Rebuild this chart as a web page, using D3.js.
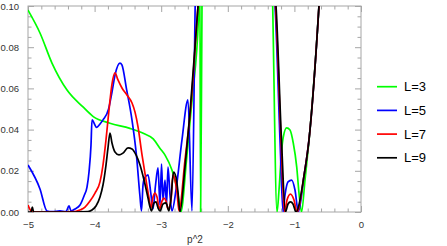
<!DOCTYPE html>
<html><head><meta charset="utf-8">
<script src="https://cdn.jsdelivr.net/npm/d3@7"></script>
<style>
body{margin:0;background:#fff}
text{font-family:"Liberation Sans",Arial,sans-serif}
</style>
</head><body>
<script>
// ---- data ----
const seriesLabels = ["L=3","L=5","L=7","L=9"];
const seriesColors = ["#00ff00","#0000ff","#ff0000","#000000"];
const xTickValues = [-5,-4,-3,-2,-1,0];
const yTickValues = [0,0.02,0.04,0.06,0.08,0.10];
const xLabel = "p^2";

// [p^2, value] pairs (values above 0.10 are clipped)
const L3 = [[-5.0,0.098],[-4.82,0.0869],[-4.64,0.0723],[-4.414,0.0592],[-4.174,0.051],[-4.02,0.0463],
 [-3.77,0.0431],[-3.47,0.0406],[-3.27,0.0382],[-3.12,0.0355],[-3.02,0.031],[-2.94,0.0275],[-2.84,0.0205],
 [-2.79,0.015],[-2.75,0.009],[-2.725,0.003],[-2.705,0],[-2.62,0.0252],[-2.53,0.0568],[-2.44,0.0947],
 [-2.428,0.108],[-2.42,0.115],[-2.408,0],[-2.387,0.103],[-2.37,0.14],[-1.85,0.3],[-1.345,0.13],[-1.326,0.1],
 [-1.261,0],[-1.231,0.0107],[-1.191,0.0301],[-1.167,0.0364],[-1.116,0.0408],[-1.066,0.0398],[-1.017,0.0335],
 [-0.965,0.0218],[-0.931,0.0092],[-0.893,0],[-0.841,0.0155],[-0.766,0.0398],[-0.631,0.1],[-0.6,0.117]];

const L5 = [[-5.0,0.0228],[-4.82,0.0112],[-4.715,0.0005],[-4.64,0.0002],[-4.52,0.0005],[-4.43,0.0002],
 [-4.384,0.003],[-4.354,0.0005],[-4.294,0.0015],[-4.219,0.0034],[-4.159,0.0078],[-4.114,0.0121],[-4.084,0.0194],
 [-4.054,0.0325],[-4.039,0.0447],[-3.97,0.0411],[-3.919,0.0427],[-3.874,0.0447],[-3.79,0.05],[-3.74,0.058],
 [-3.69,0.067],[-3.62,0.0723],[-3.59,0.0714],[-3.52,0.0595],[-3.44,0.045],[-3.37,0.027],[-3.32,0.008],
 [-3.296,0.0005],[-3.273,0.0131],[-3.25,0.0165],[-3.198,0.018],[-3.153,0.0083],[-3.123,0.0015],[-3.085,0.0131],
 [-3.048,0.0214],[-3.018,0.0034],[-2.995,0.0233],[-2.973,0.0058],[-2.943,0.0155],[-2.92,0.0034],[-2.898,0.0218],
 [-2.868,0.0083],[-2.838,0.0005],[-2.778,0.0107],[-2.688,0.035],[-2.598,0.0544],[-2.538,0.0005],[-2.49,0.1],
 [-2.47,0.14],[-1.85,0.3],[-1.314,0.11],[-1.291,0.1],[-1.216,0.035],[-1.171,0],[-1.141,0.0083],[-1.096,0.0146],
 [-1.041,0.0155],[-0.991,0.0107],[-0.941,0],[-0.856,0.0175],[-0.781,0.035],[-0.631,0.1],[-0.6,0.117]];

const L7 = [[-5.0,0.0034],[-4.955,0.0005],[-4.925,0],[-4.5,0],[-4.294,0.0002],[-4.219,0.001],[-4.144,0.0024],
 [-4.069,0.0053],[-3.994,0.0092],[-3.919,0.0146],[-3.874,0.0228],[-3.829,0.035],[-3.784,0.0495],[-3.739,0.0621],
 [-3.694,0.0675],[-3.649,0.0641],[-3.589,0.0602],[-3.514,0.0568],[-3.438,0.0529],[-3.393,0.0485],[-3.348,0.0413],
 [-3.288,0.0277],[-3.228,0.0155],[-3.183,0.0068],[-3.153,0.002],[-3.123,0.0073],[-3.093,0.0092],[-3.063,0.0073],
 [-3.025,0.0015],[-2.988,0.0053],[-2.958,0.0068],[-2.928,0.0053],[-2.898,0.0015],[-2.853,0.0058],[-2.823,0.018],
 [-2.793,0.0155],[-2.763,0.0097],[-2.733,0.0005],[-2.643,0.0252],[-2.553,0.052],[-2.447,0.1],[-2.417,0.112],
 [-1.85,0.3],[-1.31,0.11],[-1.284,0.1],[-1.201,0.035],[-1.149,0],[-1.111,0.0058],[-1.059,0.0087],[-1.006,0.0058],
 [-0.961,0],[-0.856,0.0175],[-0.781,0.035],[-0.631,0.1],[-0.6,0.117]];

const L9 = [[-5.0,0],[-4.955,0],[-4.935,0.0024],[-4.915,0],[-4.3,0],[-4.099,0.0002],[-4.039,0.001],[-3.979,0.0029],
 [-3.919,0.0073],[-3.874,0.0131],[-3.829,0.0228],[-3.799,0.0311],[-3.769,0.0383],[-3.739,0.0335],[-3.694,0.0291],
 [-3.634,0.0277],[-3.574,0.0286],[-3.498,0.0311],[-3.438,0.0306],[-3.378,0.0277],[-3.318,0.0228],[-3.258,0.0155],
 [-3.198,0.0068],[-3.168,0.0024],[-3.146,0.0005],[-3.108,0.0044],[-3.078,0.0049],[-3.048,0.002],[-3.018,0.0005],
 [-2.973,0.0039],[-2.928,0.0044],[-2.883,0.0005],[-2.853,0.0068],[-2.815,0.0194],[-2.778,0.017],[-2.748,0.0097],
 [-2.718,0],[-2.643,0.0218],[-2.568,0.0481],[-2.447,0.1],[-2.417,0.112],[-1.85,0.3],[-1.3,0.11],[-1.276,0.1],
 [-1.194,0.035],[-1.134,0],[-1.096,0.0039],[-1.059,0.0049],[-1.021,0.0039],[-0.976,0],[-0.856,0.0175],
 [-0.781,0.035],[-0.631,0.1],[-0.6,0.117]];

const allSeries = [L3, L5, L7, L9];

// ---- layout ----
const W = 447, H = 246;
const mLeft = 28, mRight = 361, mTop = 6, mBottom = 212;
const svg = d3.select("body").append("svg").attr("width", W).attr("height", H);

const x = d3.scaleLinear().domain([-5, 0]).range([mLeft, mRight]);
const y = d3.scaleLinear().domain([0, 0.10]).range([mBottom, mTop]);

const frameColor = "#a6a6a6";
const labelColor = "#333";

const xMinor = d3.range(-5, 0.0001, 0.2).map(v => +v.toFixed(2)).filter(v => Math.abs(v - Math.round(v)) > 1e-6);
const yMinor = d3.range(0, 0.1001, 0.005).map(v => +v.toFixed(3)).filter(v => Math.abs(v / 0.02 - Math.round(v / 0.02)) > 1e-6);

function styleAxis(g) {
  g.select(".domain").remove();
  g.selectAll(".tick line").attr("stroke", frameColor).attr("stroke-width", 1);
  g.selectAll(".tick text").attr("fill", labelColor).style("font-size", "9.5px");
}

// bottom
svg.append("g").attr("transform", `translate(0,${mBottom})`)
  .call(d3.axisBottom(x).tickValues(xTickValues).tickSize(-6).tickPadding(9).tickFormat(d3.format("d")))
  .call(styleAxis);
svg.append("g").attr("transform", `translate(0,${mBottom})`)
  .call(d3.axisBottom(x).tickValues(xMinor).tickSize(-3.5).tickFormat(""))
  .call(styleAxis);
// top
svg.append("g").attr("transform", `translate(0,${mTop})`)
  .call(d3.axisTop(x).tickValues(xTickValues).tickSize(-6).tickFormat(""))
  .call(styleAxis);
svg.append("g").attr("transform", `translate(0,${mTop})`)
  .call(d3.axisTop(x).tickValues(xMinor).tickSize(-3.5).tickFormat(""))
  .call(styleAxis);
// left
svg.append("g").attr("transform", `translate(${mLeft},0)`)
  .call(d3.axisLeft(y).tickValues(yTickValues).tickSize(-6).tickPadding(9).tickFormat(d3.format(".2f")))
  .call(styleAxis);
svg.append("g").attr("transform", `translate(${mLeft},0)`)
  .call(d3.axisLeft(y).tickValues(yMinor).tickSize(-3.5).tickFormat(""))
  .call(styleAxis);
// right
svg.append("g").attr("transform", `translate(${mRight},0)`)
  .call(d3.axisRight(y).tickValues(yTickValues).tickSize(-6).tickFormat(""))
  .call(styleAxis);
svg.append("g").attr("transform", `translate(${mRight},0)`)
  .call(d3.axisRight(y).tickValues(yMinor).tickSize(-3.5).tickFormat(""))
  .call(styleAxis);

// frame
svg.append("rect").attr("x", mLeft).attr("y", mTop).attr("width", mRight - mLeft).attr("height", mBottom - mTop)
  .attr("fill", "none").attr("stroke", frameColor).attr("stroke-width", 1);

// clip
svg.append("clipPath").attr("id", "clip").append("rect")
  .attr("x", mLeft).attr("y", mTop).attr("width", mRight - mLeft).attr("height", mBottom - mTop);

const line = d3.line().x(d => x(d[0])).y(d => y(d[1])).curve(d3.curveMonotoneX);
const plot = svg.append("g").attr("clip-path", "url(#clip)");
allSeries.forEach((s, i) => {
  plot.append("path").datum(s).attr("d", line)
    .attr("fill", "none").attr("stroke", seriesColors[i]).attr("stroke-width", 1.7)
    .attr("stroke-linejoin", "round");
});

// x label
svg.append("text").attr("x", 195).attr("y", 243).attr("text-anchor", "middle")
  .attr("fill", labelColor).style("font-size", "10px").text(xLabel);

// legend
const lg = svg.append("g");
seriesLabels.forEach((lab, i) => {
  const yy = 86.7 + i * 23.7;
  lg.append("line").attr("x1", 377).attr("x2", 397).attr("y1", yy).attr("y2", yy)
    .attr("stroke", seriesColors[i]).attr("stroke-width", 1.7);
  lg.append("text").attr("x", 404).attr("y", yy).attr("dy", "0.35em")
    .attr("fill", "#000").style("font-size", "13px").text(lab);
});
</script>
</body></html>
